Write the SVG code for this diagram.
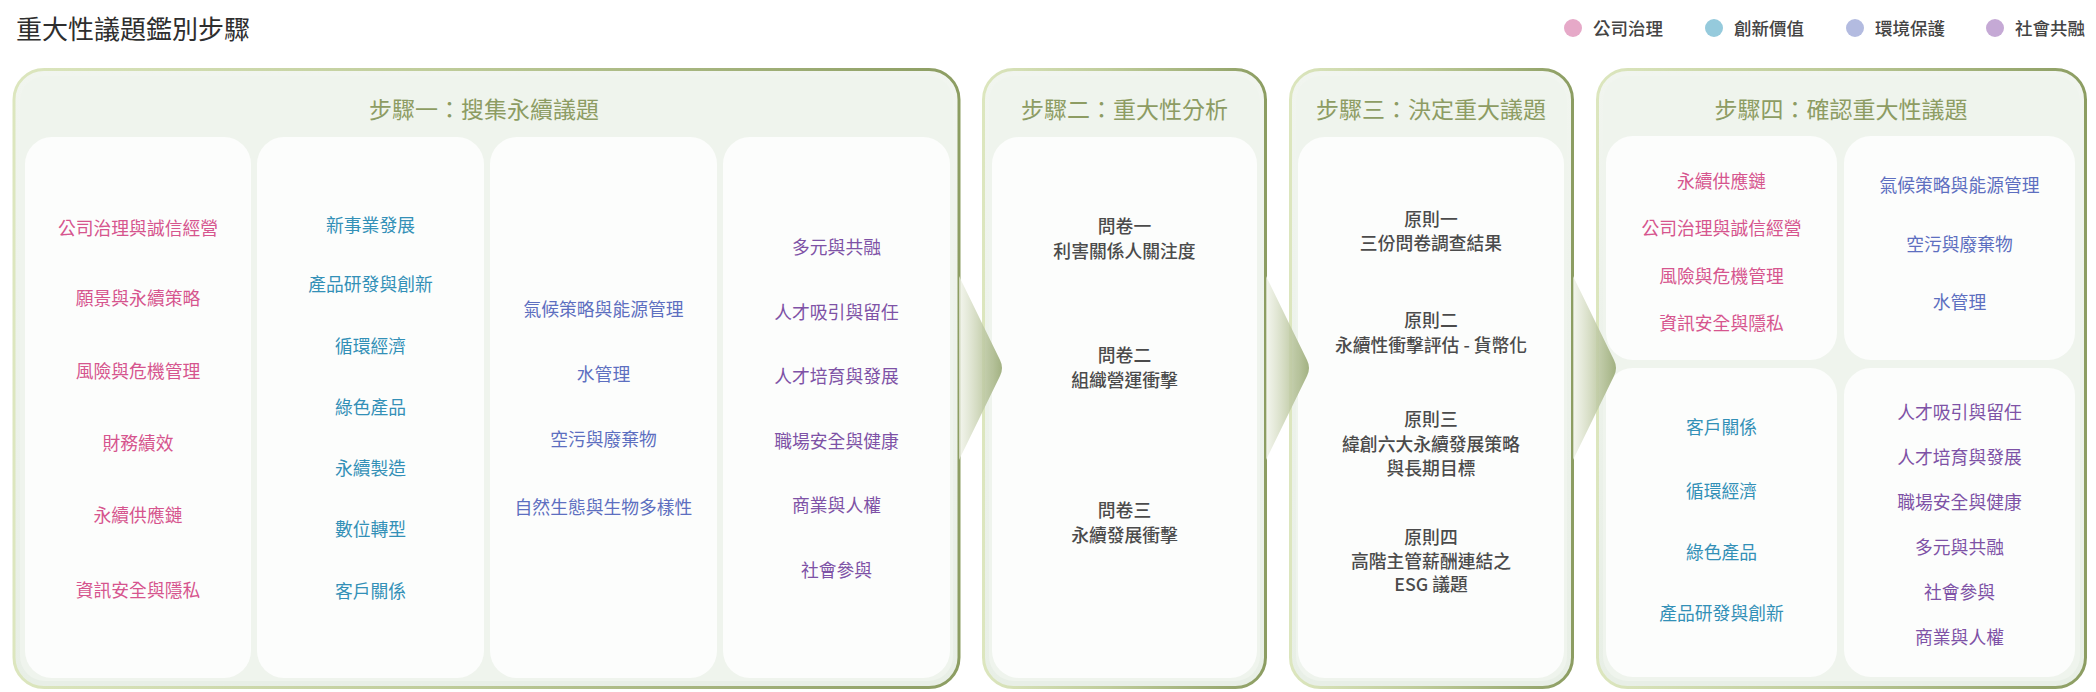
<svg xmlns="http://www.w3.org/2000/svg" width="2096" height="692" viewBox="0 0 2096 692">
<defs>
<linearGradient id="stroke" x1="0" y1="0" x2="1" y2="0">
<stop offset="0" stop-color="#DCE6BE"/>
<stop offset="0.45" stop-color="#BFCC9A"/>
<stop offset="1" stop-color="#8C9D62"/>
</linearGradient>
<linearGradient id="pbg" x1="0" y1="0" x2="0" y2="1">
<stop offset="0" stop-color="#F1F5EF"/>
<stop offset="1" stop-color="#E8EFE6"/>
</linearGradient>
<linearGradient id="arr" x1="0" y1="0" x2="1" y2="0">
<stop offset="0" stop-color="#EEF1E6" stop-opacity="0.7"/>
<stop offset="0.5" stop-color="#C4CEAB" stop-opacity="0.85"/>
<stop offset="1" stop-color="#9DAD7B" stop-opacity="0.95"/>
</linearGradient>
<style>
text{font-family:"Noto Sans CJK TC","Noto Sans CJK JP",sans-serif;}
.outer{fill:url(#pbg);stroke:url(#stroke);stroke-width:3;}
.inner{fill:#EFF4ED;}
.card{fill:#FCFDFC;}
.st{font-size:23px;fill:#8D9C63;text-anchor:middle;}
.t{font-size:17.8px;font-weight:400;text-anchor:middle;}
.pk{fill:#D6558E;}
.tl{fill:#3390B7;}
.bl{fill:#5D6FC0;}
.pp{fill:#7E52A6;}
.dk{fill:#4B4B4B;font-weight:500;}
.lg{font-size:17.5px;font-weight:500;fill:#444444;}
.arrow{fill:url(#arr);}
</style>
</defs>
<rect width="2096" height="692" fill="#FFFFFF"/>
<text x="16" y="39" font-size="26" fill="#2E2E2E">重大性議題鑑別步驟</text>
<g id="legend">
<circle cx="1573" cy="28" r="9" fill="#E6A9C8"/>
<text class="lg" x="1593" y="34.5">公司治理</text>
<circle cx="1714" cy="28" r="9" fill="#95CADC"/>
<text class="lg" x="1734" y="34.5">創新價值</text>
<circle cx="1855" cy="28" r="9" fill="#B3BBE0"/>
<text class="lg" x="1875" y="34.5">環境保護</text>
<circle cx="1995" cy="28" r="9" fill="#C5A9D5"/>
<text class="lg" x="2015" y="34.5">社會共融</text>
</g>
<g id="step1">
<rect class="outer" x="14" y="69.5" width="945" height="618" rx="30"/>
<rect class="inner" x="20" y="76" width="933" height="605" rx="25"/>
<text class="st" x="484" y="118">步驟一：搜集永續議題</text>
<rect class="card" x="25" y="137" width="226" height="541" rx="27"/>
<rect class="card" x="257" y="137" width="227" height="541" rx="27"/>
<rect class="card" x="490" y="137" width="227" height="541" rx="27"/>
<rect class="card" x="723" y="137" width="227" height="541" rx="27"/>
<g class="t pk">
<text x="138" y="234.5">公司治理與誠信經營</text>
<text x="138" y="304.5">願景與永續策略</text>
<text x="138" y="377.5">風險與危機管理</text>
<text x="138" y="449.5">財務績效</text>
<text x="138" y="521.5">永續供應鏈</text>
<text x="138" y="596.5">資訊安全與隱私</text>
</g>
<g class="t tl">
<text x="370.5" y="231.5">新事業發展</text>
<text x="370.5" y="290.5">產品研發與創新</text>
<text x="370.5" y="352.5">循環經濟</text>
<text x="370.5" y="413.5">綠色產品</text>
<text x="370.5" y="474.5">永續製造</text>
<text x="370.5" y="535.5">數位轉型</text>
<text x="370.5" y="597.5">客戶關係</text>
</g>
<g class="t bl">
<text x="603.5" y="315.5">氣候策略與能源管理</text>
<text x="603.5" y="380.5">水管理</text>
<text x="603.5" y="445.5">空污與廢棄物</text>
<text x="603.5" y="513.5">自然生態與生物多樣性</text>
</g>
<g class="t pp">
<text x="836.5" y="253.5">多元與共融</text>
<text x="836.5" y="318.5">人才吸引與留任</text>
<text x="836.5" y="382.5">人才培育與發展</text>
<text x="836.5" y="447.5">職場安全與健康</text>
<text x="836.5" y="511.5">商業與人權</text>
<text x="836.5" y="576.5">社會參與</text>
</g>
</g>
<g id="step2">
<rect class="outer" x="983.5" y="69.5" width="282" height="618" rx="30"/>
<rect class="inner" x="989" y="76" width="271" height="605" rx="25"/>
<text class="st" x="1124.5" y="118">步驟二：重大性分析</text>
<rect class="card" x="992" y="137" width="265" height="541" rx="27"/>
<g class="t dk">
<text x="1124.5" y="232.5">問卷一</text>
<text x="1124.5" y="257.5">利害關係人關注度</text>
<text x="1124.5" y="361.5">問卷二</text>
<text x="1124.5" y="386.5">組織營運衝擊</text>
<text x="1124.5" y="516.5">問卷三</text>
<text x="1124.5" y="541.5">永續發展衝擊</text>
</g>
</g>
<g id="step3">
<rect class="outer" x="1290.5" y="69.5" width="282" height="618" rx="30"/>
<rect class="inner" x="1296" y="76" width="271" height="605" rx="25"/>
<text class="st" x="1431" y="118">步驟三：決定重大議題</text>
<rect class="card" x="1298" y="137" width="266" height="541" rx="27"/>
<g class="t dk">
<text x="1431" y="225.5">原則一</text>
<text x="1431" y="249.5">三份問卷調查結果</text>
<text x="1431" y="326.5">原則二</text>
<text x="1431" y="351.5">永續性衝擊評估 - 貨幣化</text>
<text x="1431" y="425.5">原則三</text>
<text x="1431" y="450.5">緯創六大永續發展策略</text>
<text x="1431" y="474.5">與長期目標</text>
<text x="1431" y="543.5">原則四</text>
<text x="1431" y="567.5">高階主管薪酬連結之</text>
<text x="1431" y="590.5">ESG 議題</text>
</g>
</g>
<g id="step4">
<rect class="outer" x="1597.5" y="69.5" width="488" height="618" rx="30"/>
<rect class="inner" x="1603" y="76" width="477" height="605" rx="25"/>
<text class="st" x="1841" y="118">步驟四：確認重大性議題</text>
<rect class="card" x="1606" y="136" width="231" height="224" rx="27"/>
<rect class="card" x="1844" y="136" width="231" height="224" rx="27"/>
<rect class="card" x="1606" y="368" width="231" height="309" rx="27"/>
<rect class="card" x="1844" y="368" width="231" height="309" rx="27"/>
<g class="t pk">
<text x="1721.5" y="187.5">永續供應鏈</text>
<text x="1721.5" y="234.5">公司治理與誠信經營</text>
<text x="1721.5" y="282.5">風險與危機管理</text>
<text x="1721.5" y="329.5">資訊安全與隱私</text>
</g>
<g class="t bl">
<text x="1959.5" y="191.5">氣候策略與能源管理</text>
<text x="1959.5" y="250.5">空污與廢棄物</text>
<text x="1959.5" y="308.5">水管理</text>
</g>
<g class="t tl">
<text x="1721.5" y="433.5">客戶關係</text>
<text x="1721.5" y="497.5">循環經濟</text>
<text x="1721.5" y="558.5">綠色產品</text>
<text x="1721.5" y="619.5">產品研發與創新</text>
</g>
<g class="t pp">
<text x="1959.5" y="418.5">人才吸引與留任</text>
<text x="1959.5" y="463.5">人才培育與發展</text>
<text x="1959.5" y="508.5">職場安全與健康</text>
<text x="1959.5" y="553.5">多元與共融</text>
<text x="1959.5" y="598.5">社會參與</text>
<text x="1959.5" y="643.5">商業與人權</text>
</g>
</g>
<g id="connectors">
<path class="arrow" d="M959 276 L1000 360 Q1004 368 1000 376 L959 460 Z"/>
<path class="arrow" d="M1266 276 L1307 360 Q1311 368 1307 376 L1266 460 Z"/>
<path class="arrow" d="M1573 276 L1614 360 Q1618 368 1614 376 L1573 460 Z"/>
</g>
</svg>
